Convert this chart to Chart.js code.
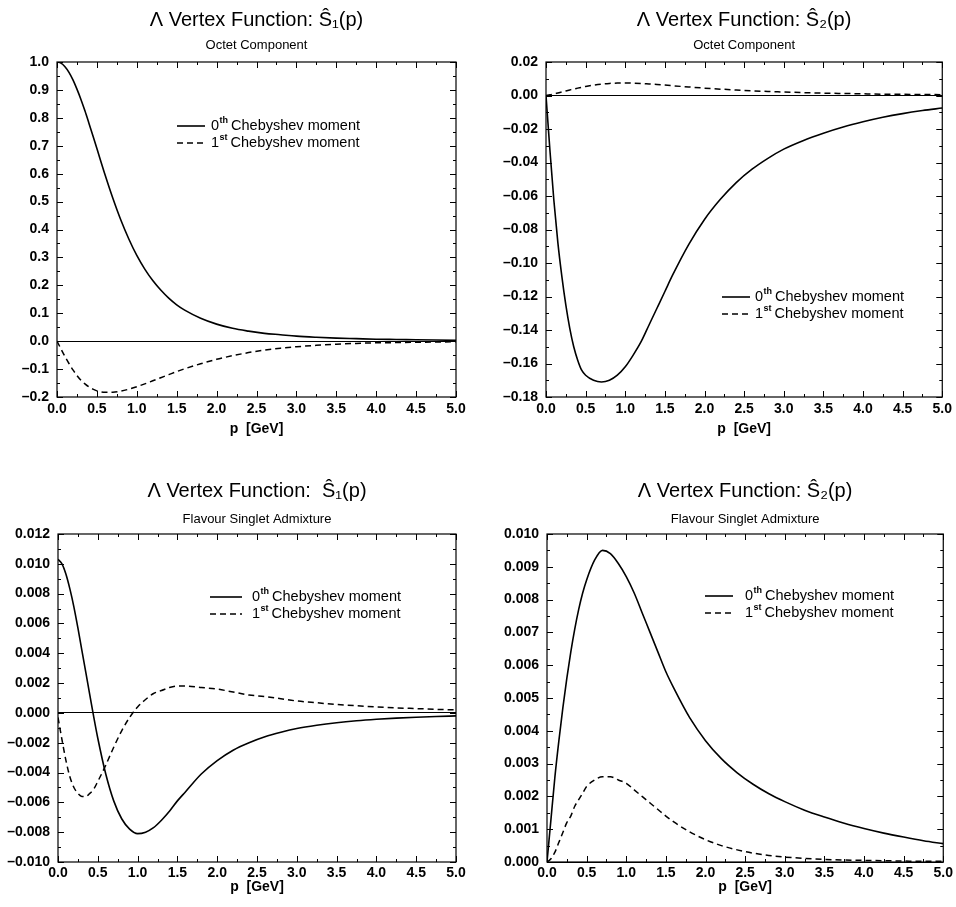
<!DOCTYPE html>
<html>
<head>
<meta charset="utf-8">
<title>Λ Vertex Function</title>
<script src="https://cdn.jsdelivr.net/npm/chart.js@4.4.1/dist/chart.umd.min.js"></script>
<style>
  html, body { margin: 0; padding: 0; background: #fff; }
  .panel { position: absolute; }
</style>
</head>
<body>
<div class="panel" style="left:0;top:0;width:478px;height:453px"><canvas id="octetS1"></canvas></div>
<div class="panel" style="left:478px;top:0;width:478px;height:453px"><canvas id="octetS2"></canvas></div>
<div class="panel" style="left:0;top:453px;width:478px;height:454px"><canvas id="singletS1"></canvas></div>
<div class="panel" style="left:478px;top:453px;width:478px;height:454px"><canvas id="singletS2"></canvas></div>
<script>
// momentum grid, GeV
const pGrid = [0, 0.05, 0.1, 0.15, 0.2, 0.25, 0.3, 0.35, 0.4, 0.45,
  0.5, 0.6, 0.7, 0.8, 0.9, 1.0, 1.1, 1.2, 1.3, 1.4, 1.5, 1.6,
  1.8, 2.0, 2.2, 2.4, 2.6, 2.8, 3.0, 3.25, 3.5, 3.75, 4.0, 4.25, 4.5, 4.75, 5.0];

// octet component
const octetS1Zeroth = [1.000, 0.996, 0.983, 0.963, 0.936, 0.903, 0.866, 0.825, 0.781, 0.736,
  0.690, 0.598, 0.512, 0.434, 0.366, 0.307, 0.258, 0.217, 0.183, 0.154, 0.130, 0.111,
  0.082, 0.061, 0.046, 0.036, 0.028, 0.023, 0.018, 0.014, 0.011, 0.009, 0.007, 0.006, 0.005, 0.004, 0.003];
const octetS1First = [0, -0.028, -0.055, -0.080, -0.103, -0.123, -0.140, -0.153, -0.164, -0.172,
  -0.178, -0.183, -0.183, -0.179, -0.172, -0.163, -0.153, -0.142, -0.131, -0.120, -0.109, -0.099,
  -0.081, -0.065, -0.052, -0.041, -0.032, -0.025, -0.020, -0.015, -0.011, -0.008, -0.006, -0.005, -0.004, -0.003, -0.002];
const octetS2Zeroth = [0, -0.033, -0.063, -0.088, -0.108, -0.125, -0.139, -0.150, -0.158, -0.164,
  -0.167, -0.170, -0.171, -0.170, -0.167, -0.162, -0.155, -0.147, -0.137, -0.127, -0.117, -0.107,
  -0.089, -0.074, -0.062, -0.052, -0.044, -0.0375, -0.032, -0.0268, -0.0225, -0.0188, -0.0157, -0.013, -0.0108, -0.009, -0.0075];
const octetS2First = [0, 0.0004, 0.0009, 0.0015, 0.0021, 0.0027, 0.0033, 0.0039, 0.0044, 0.0049,
  0.0054, 0.0062, 0.0068, 0.0072, 0.0074, 0.0075, 0.0074, 0.0072, 0.0069, 0.0066, 0.0062, 0.0058,
  0.0051, 0.0044, 0.0038, 0.0033, 0.0028, 0.0024, 0.0021, 0.0017, 0.0014, 0.0012, 0.0010, 0.0008, 0.0007, 0.0006, 0.0005];

// flavour singlet admixture
const singletS1Zeroth = [0.0103, 0.0100, 0.0093, 0.0083, 0.0071, 0.0057, 0.0042, 0.0027, 0.0012, -0.0003,
  -0.0017, -0.0041, -0.0059, -0.0071, -0.0078, -0.0081, -0.0080, -0.0077, -0.0072, -0.0066, -0.0059, -0.0053,
  -0.0041, -0.0032, -0.0025, -0.0020, -0.0016, -0.0013, -0.00105, -0.00083, -0.00066, -0.00053, -0.00043, -0.00035, -0.00029, -0.00024, -0.0002];
const singletS1First = [-0.0003, -0.0018, -0.0032, -0.0043, -0.0050, -0.0054, -0.0056, -0.0056, -0.0054, -0.0051,
  -0.0046, -0.0035, -0.0023, -0.0012, -0.0003, 0.0004, 0.0009, 0.0013, 0.0015, 0.0017, 0.0018, 0.0018,
  0.0017, 0.0016, 0.0014, 0.0012, 0.0011, 0.00095, 0.0008, 0.00068, 0.00057, 0.00048, 0.0004, 0.00034, 0.00029, 0.00024, 0.0002];
const singletS2Zeroth = [0, 0.0013, 0.0026, 0.0037, 0.0047, 0.0056, 0.0064, 0.0071, 0.0077, 0.0082,
  0.0086, 0.0092, 0.0095, 0.0094, 0.0091, 0.0087, 0.0082, 0.0076, 0.0070, 0.0064, 0.0058, 0.0053,
  0.0044, 0.0037, 0.00315, 0.00272, 0.00237, 0.00208, 0.00184, 0.00158, 0.00137, 0.00118, 0.00102, 0.00088, 0.00076, 0.00065, 0.00056];
const singletS2First = [0, 0.0001, 0.0003, 0.0006, 0.0009, 0.0012, 0.0014, 0.0017, 0.0019, 0.0021,
  0.0023, 0.0025, 0.0026, 0.0026, 0.0025, 0.0024, 0.0022, 0.0020, 0.0018, 0.0016, 0.0014, 0.00122,
  0.00092, 0.00068, 0.0005, 0.00037, 0.00027, 0.0002, 0.00015, 0.00011, 0.00008, 0.00006, 0.00005, 0.00004, 0.00003, 0.00002, 0.00002];

const momentOrders = ['0', '1'];
const momentSuffixes = ['th', 'st'];
const momentName = 'Chebyshev moment';
const panelTitles = ['Λ Vertex Function: Ŝ₁(p)', 'Λ Vertex Function: Ŝ₂(p)',
  'Λ Vertex Function:  Ŝ₁(p)', 'Λ Vertex Function: Ŝ₂(p)'];
const panelSubtitles = ['Octet Component', 'Octet Component',
  'Flavour Singlet Admixture', 'Flavour Singlet Admixture'];
const xAxisTitle = 'p  [GeV]';

const FONT = '"Liberation Sans", Arial, Helvetica, sans-serif';
Chart.defaults.font.family = FONT;
Chart.defaults.color = '#000';

function isMajor(v, step) {
  const r = v / step;
  return Math.abs(r - Math.round(r)) < 1e-6;
}

function tickText(major, digits) {
  return v => {
    if (!isMajor(v, major)) return '';
    if (Math.abs(v) < 1e-12) return (0).toFixed(digits);
    return v < 0 ? '\u2013' + Math.abs(v).toFixed(digits) : v.toFixed(digits);
  };
}

// box frame with inward ticks on all four sides
const frameTicks = {
  id: 'frameTicks',
  afterDraw(chart) {
    const {ctx, chartArea: a, scales: {x, y}} = chart;
    ctx.save();
    ctx.strokeStyle = '#000';
    ctx.lineWidth = 1.2;
    ctx.strokeRect(a.left, a.top, a.right - a.left, a.bottom - a.top);
    ctx.lineWidth = 1;
    ctx.beginPath();
    x.ticks.forEach(t => {
      const px = Math.round(x.getPixelForValue(t.value)) + 0.5;
      const len = t.label ? 6 : 3;
      ctx.moveTo(px, a.bottom); ctx.lineTo(px, a.bottom - len);
      ctx.moveTo(px, a.top); ctx.lineTo(px, a.top + len);
    });
    y.ticks.forEach(t => {
      const py = Math.round(y.getPixelForValue(t.value)) + 0.5;
      const len = t.label ? 6 : 3;
      ctx.moveTo(a.left, py); ctx.lineTo(a.left + len, py);
      ctx.moveTo(a.right, py); ctx.lineTo(a.right - len, py);
    });
    ctx.stroke();
    ctx.restore();
  }
};

// legend inside the plot with superscript ordinals
const momentLegend = {
  id: 'momentLegend',
  afterDraw(chart, args, o) {
    const ctx = chart.ctx;
    ctx.save();
    chart.data.datasets.forEach((ds, i) => {
      const yy = o.y + i * o.gap;
      ctx.strokeStyle = '#000';
      ctx.lineWidth = ds.borderWidth;
      ctx.setLineDash(ds.borderDash || []);
      ctx.beginPath();
      ctx.moveTo(o.x0, yy);
      ctx.lineTo(o.x1, yy);
      ctx.stroke();
      ctx.setLineDash([]);
      ctx.fillStyle = '#000';
      ctx.textBaseline = 'middle';
      ctx.textAlign = 'left';
      let tx = o.tx;
      ctx.font = '14.5px ' + FONT;
      ctx.fillText(momentOrders[i], tx, yy);
      tx += ctx.measureText(momentOrders[i]).width + 0.5;
      ctx.font = 'bold 9px ' + FONT;
      ctx.fillText(momentSuffixes[i], tx, yy - 5);
      tx += ctx.measureText(momentSuffixes[i]).width + 3;
      ctx.font = '14.5px ' + FONT;
      ctx.fillText(momentName, tx, yy);
    });
    ctx.restore();
  }
};

function makePanel(canvasId, idx, zeroth, first, cfg) {
  const toPoints = arr => pGrid.map((p, i) => ({x: p, y: arr[i]}));
  return new Chart(document.getElementById(canvasId), {
    type: 'line',
    data: {
      datasets: [
        {
          label: momentOrders[0] + momentSuffixes[0] + ' ' + momentName,
          data: toPoints(zeroth),
          borderColor: '#000',
          borderWidth: 1.6,
          pointRadius: 0,
          cubicInterpolationMode: 'monotone',
          fill: false
        },
        {
          label: momentOrders[1] + momentSuffixes[1] + ' ' + momentName,
          data: toPoints(first),
          borderColor: '#000',
          borderWidth: 1.5,
          borderDash: [6, 4],
          pointRadius: 0,
          cubicInterpolationMode: 'monotone',
          fill: false
        }
      ]
    },
    options: {
      responsive: true,
      maintainAspectRatio: false,
      animation: false,
      layout: { padding: { left: 0, right: cfg.padRight, top: 0, bottom: 0 } },
      scales: {
        x: {
          type: 'linear',
          min: 0,
          max: 5,
          grid: { display: false, drawTicks: false },
          border: { display: false },
          ticks: {
            stepSize: 0.25,
            autoSkip: false,
            maxRotation: 0,
            padding: cfg.xPad,
            font: { size: 14, weight: 'bold' },
            callback: tickText(0.5, 1)
          },
          title: {
            display: true,
            text: xAxisTitle,
            font: { size: 14, weight: 'bold' },
            padding: { top: 0, bottom: cfg.xTitlePad }
          },
          afterFit: s => { s.height = cfg.xHeight; }
        },
        y: {
          min: cfg.yMin,
          max: cfg.yMax,
          grid: {
            drawTicks: false,
            lineWidth: 1,
            color: c => (c.tick && Math.abs(c.tick.value) < 1e-12) ? '#000' : 'rgba(0,0,0,0)'
          },
          border: { display: false },
          ticks: {
            stepSize: cfg.yMinor,
            autoSkip: false,
            padding: 8,
            font: { size: 14, weight: 'bold' },
            callback: tickText(cfg.yMajor, cfg.yDigits)
          },
          afterFit: s => { s.width = cfg.yWidth; }
        }
      },
      plugins: {
        legend: { display: false },
        tooltip: { enabled: false },
        title: {
          display: true,
          fullSize: false,
          text: panelTitles[idx],
          font: { size: 20, weight: 'normal' },
          padding: { top: cfg.titleTop, bottom: 0 }
        },
        subtitle: {
          display: true,
          fullSize: false,
          text: panelSubtitles[idx],
          font: { size: 13, weight: 'normal' },
          padding: { top: cfg.subTop, bottom: cfg.subBottom }
        },
        momentLegend: cfg.legend
      }
    },
    plugins: [frameTicks, momentLegend]
  });
}

makePanel('octetS1', 0, octetS1Zeroth, octetS1First, {
  yMin: -0.2, yMax: 1.0, yMajor: 0.1, yMinor: 0.05, yDigits: 1,
  yWidth: 57, padRight: 22, xHeight: 56, xPad: 4, xTitlePad: 15,
  titleTop: 8, subTop: 6, subBottom: 8.4,
  legend: { x0: 177, x1: 205, tx: 211, y: 126, gap: 17 }
});
makePanel('octetS2', 1, octetS2Zeroth, octetS2First, {
  yMin: -0.18, yMax: 0.02, yMajor: 0.02, yMinor: 0.01, yDigits: 2,
  yWidth: 68, padRight: 11, xHeight: 56, xPad: 4, xTitlePad: 15,
  titleTop: 8, subTop: 6, subBottom: 8.4,
  legend: { x0: 244, x1: 272, tx: 277, y: 297, gap: 17 }
});
makePanel('singletS1', 2, singletS1Zeroth, singletS1First, {
  yMin: -0.010, yMax: 0.012, yMajor: 0.002, yMinor: 0.001, yDigits: 3,
  yWidth: 58, padRight: 22, xHeight: 45, xPad: 3, xTitlePad: 11,
  titleTop: 26, subTop: 9, subBottom: 6.4,
  legend: { x0: 210, x1: 242, tx: 252, y: 144, gap: 17 }
});
makePanel('singletS2', 3, singletS2Zeroth, singletS2First, {
  yMin: 0, yMax: 0.010, yMajor: 0.001, yMinor: 0.0005, yDigits: 3,
  yWidth: 69, padRight: 11, xHeight: 45, xPad: 3, xTitlePad: 11,
  titleTop: 26, subTop: 9, subBottom: 6.4,
  legend: { x0: 227, x1: 255, tx: 267, y: 143, gap: 17 }
});
</script>
</body>
</html>
